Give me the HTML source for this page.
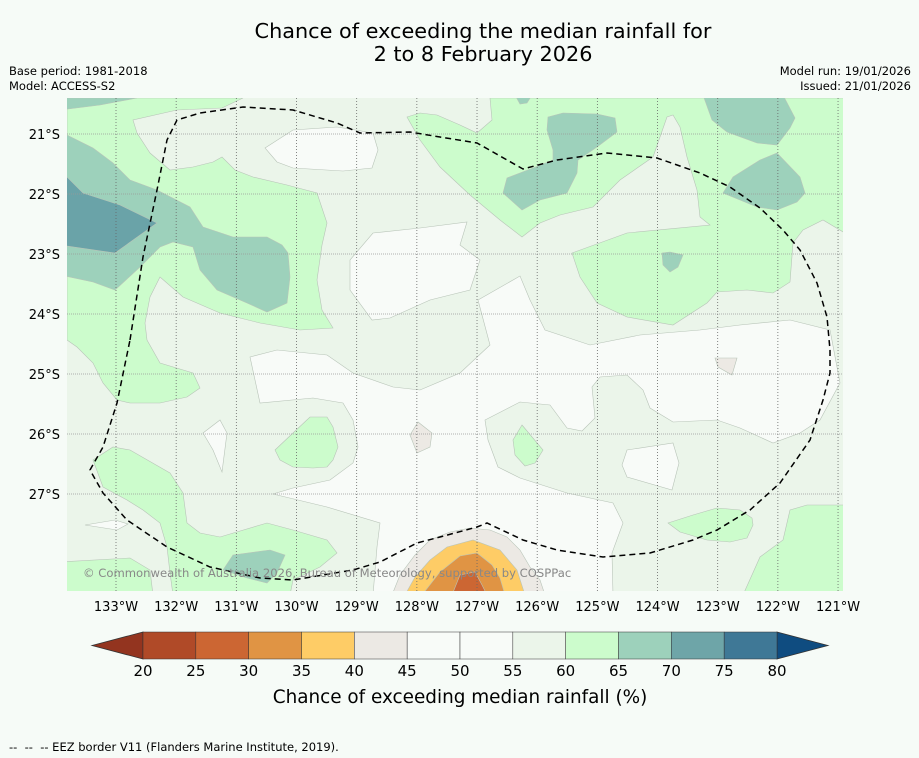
<!DOCTYPE html>
<html><head><meta charset="utf-8"><style>
html,body{margin:0;padding:0;background:#f6fbf7;}
svg{display:block;font-family:"DejaVu Sans","Liberation Sans",sans-serif;}
</style></head><body>
<svg id="fig" width="919" height="758" viewBox="0 0 919 758" xmlns="http://www.w3.org/2000/svg">
<rect x="0" y="0" width="919" height="758" fill="#f6fbf7"/>
<text x="483" y="38" text-anchor="middle" font-size="20.8" fill="#000">Chance of exceeding the median rainfall for</text>
<text x="483" y="61" text-anchor="middle" font-size="20.8" fill="#000">2 to 8 February 2026</text>
<text x="9" y="75" font-size="11.5">Base period: 1981-2018</text>
<text x="9" y="90" font-size="11.5">Model: ACCESS-S2</text>
<text x="911" y="75" font-size="11.5" text-anchor="end">Model run: 19/01/2026</text>
<text x="911" y="90" font-size="11.5" text-anchor="end">Issued: 21/01/2026</text>

<defs><clipPath id="mapclip"><rect x="67" y="98" width="776" height="493"/></clipPath></defs>
<g id="map" clip-path="url(#mapclip)" stroke="#b8c4b8" stroke-width="0.6">
<rect x="67" y="98" width="776" height="493" fill="#ebf5ea" stroke="none"/>
<polygon fill="#f8fbf8" points="250,357 277,350 327,355 353,373 393,387 420,390 460,373 490,345 478,300 520,276 530,300 545,330 590,345 640,335 700,330 740,325 790,320 830,330 840,383 820,420 800,433 773,443 740,428 717,420 673,422 650,408 643,390 627,375 600,377 592,387 595,418 582,431 567,428 550,405 520,402 485,420 488,440 498,467 520,478 567,493 613,503 623,523 612,553 613,595 373,595 377,547 380,523 327,507 273,494 293,488 330,480 353,463 358,447 353,420 343,403 313,398 260,403"/>
<polygon fill="#f8fbf8" points="373,233 420,228 467,222 460,245 480,260 470,290 430,300 390,318 372,320 350,290 350,260"/>
<polygon fill="#f8fbf8" points="265,148 293,130 337,127 373,133 378,150 372,168 343,171 293,168 277,162"/>
<polygon fill="#f8fbf8" points="203,433 220,420 227,433 222,472 213,450"/>
<polygon fill="#f8fbf8" points="85,525 115,520 128,524 117,530"/>
<polygon fill="#f8fbf8" points="622,465 627,450 673,443 679,463 672,490 627,477"/>
<polygon fill="#ece9e4" points="410,435 418,422 432,433 430,447 417,453"/>
<polygon fill="#ece9e4" points="715,358 737,358 732,375 718,367"/>
<polygon fill="#ccfccc" points="67,98 243,98 222,108 177,110 133,120 137,133 150,153 170,170 193,167 213,162 222,157 235,170 253,177 287,185 317,193 327,223 322,245 317,280 322,310 333,328 300,330 260,323 220,313 183,297 160,277 150,297 145,323 147,340 160,363 193,373 200,388 187,397 160,403 130,403 117,400 103,383 93,363 77,347 67,340"/>
<polygon fill="#ccfccc" points="490,98 850,98 850,236 823,220 803,230 793,243 790,282 773,293 747,290 717,292 707,303 673,325 627,317 597,303 580,277 572,253 627,233 710,225 700,217 697,190 687,157 680,127 673,115 667,117 653,157 620,180 593,207 560,215 540,223 522,237 500,220 470,195 440,167 420,140 407,117 420,113 437,115 460,125 477,133 492,120"/>
<polygon fill="#ccfccc" points="93,460 113,447 130,450 170,473 183,493 187,523 200,533 220,537 267,523 293,530 327,540 337,553 320,567 293,580 290,595 173,595 170,573 167,547 160,523 143,510 127,500 103,487"/>
<polygon fill="#ccfccc" points="60,562 130,558 150,570 153,595 60,595"/>
<polygon fill="#ccfccc" points="275,450 293,433 310,417 327,417 333,427 338,447 333,460 327,467 313,468 293,467 280,460"/>
<polygon fill="#ccfccc" points="522,425 543,450 535,463 525,466 515,455 513,440"/>
<polygon fill="#ccfccc" points="743,595 760,557 783,540 790,510 807,505 850,505 850,595"/>
<polygon fill="#ccfccc" points="668,523 693,515 717,508 740,510 752,518 753,525 747,538 730,542 707,540 680,532"/>
<polygon fill="#9dd1bb" points="60,135 67,135 93,148 113,163 130,180 157,190 190,207 203,227 233,237 267,237 282,245 288,253 290,277 287,303 267,312 247,303 217,290 200,270 193,247 173,242 160,247 140,267 115,290 93,282 60,275"/>
<polygon fill="#9dd1bb" points="60,98 137,98 100,105 60,110"/>
<polygon fill="#9dd1bb" points="548,117 563,113 597,114 615,118 617,132 597,147 578,160 577,173 567,193 540,200 522,210 503,193 507,178 533,168 553,160 553,150 547,130"/>
<polygon fill="#9dd1bb" points="703,95 783,95 795,118 790,128 777,145 757,143 727,132 712,120"/>
<polygon fill="#9dd1bb" points="723,193 733,177 760,160 777,153 800,177 805,193 797,202 777,210 757,207 740,200"/>
<polygon fill="#9dd1bb" points="662,253 670,252 683,255 678,267 670,272 663,265"/>
<polygon fill="#9dd1bb" points="515,95 532,95 527,103 520,104"/>
<polygon fill="#9dd1bb" points="223,570 233,555 270,550 285,555 277,573 267,583 247,578"/>
<polygon fill="#6aa3a8" points="60,177 67,177 83,193 120,205 157,223 115,253 60,245"/>
<polygon fill="#ece9e4" points="392,595 400,575 415,555 430,540 450,532 470,528 490,530 507,537 520,550 530,567 540,580 545,595"/>
<polygon fill="#fecc66" points="405,595 415,577 430,560 447,547 473,540 500,550 517,570 525,595"/>
<polygon fill="#e09444" points="422,595 440,572 460,556 477,553 492,565 500,578 505,595"/>
<polygon fill="#cc6633" points="452,595 460,575 475,572 482,585 487,595"/>
<g id="grid" stroke="none"></g>
<polyline fill="none" stroke="#000" stroke-width="1.5" stroke-dasharray="6,4" points="130,340 143,257 157,190 167,140 177,120 200,113 243,107 293,110 337,123 360,133 410,132 440,137 477,143 523,169 557,160 607,153 657,158 700,173 730,187 760,208 783,230 800,250 817,283 827,317 830,350 830,373 823,400 810,440 780,483 750,510 717,530 693,540 650,553 603,557 557,550 523,540 487,523 477,527 440,537 417,543 380,562 353,570 293,580 260,578 210,567 167,547 127,520 103,493 90,470 103,447 117,403 130,340"/>
<text x="83" y="577" font-size="11.6" fill="#888" stroke="none">© Commonwealth of Australia 2026, Bureau of Meteorology, supported by COSPPac</text>
</g>
<g id="axes"></g>
<g id="cbar"></g>
<text x="460" y="703" text-anchor="middle" font-size="18.4">Chance of exceeding median rainfall (%)</text>
<text x="9" y="751" font-size="11.5" xml:space="preserve">--  --  -- EEZ border V11 (Flanders Marine Institute, 2019).</text>
</svg>
<script>
const lonTicks = [133,132,131,130,129,128,127,126,125,124,123,122,121];
const latTicks = [21,22,23,24,25,26,27];
const cbarLevels = [20,25,30,35,40,45,50,55,60,65,70,75,80];
const cbarColors = ["#b04a28","#cc6633","#e09444","#fecc66","#ece9e4","#f8fbf8","#f8fbf8","#ebf5ea","#ccfccc","#9dd1bb","#6ea5a8","#3f7896"];
const underColor = "#93341f";
const overColor = "#0f4c80";

const NS = "http://www.w3.org/2000/svg";
const xLon = lon => 116 + (133 - lon) * 60.17;
const yLat = lat => 134 + (lat - 21) * 60;
function mk(tag, attrs, parent){ const e=document.createElementNS(NS,tag); for(const k in attrs) e.setAttribute(k,attrs[k]); parent.appendChild(e); return e; }
const grid=document.getElementById('grid'), axes=document.getElementById('axes'), cbar=document.getElementById('cbar');
lonTicks.forEach(lon=>{
  const x=xLon(lon);
  const l=mk('line',{x1:x,y1:98,x2:x,y2:591,stroke:'#666','stroke-width':0.8,'stroke-dasharray':'1,2'},grid);
  
  
  const t=mk('text',{x:x,y:611,'text-anchor':'middle','font-size':13},axes);
  
  
  t.textContent=lon+'°W';
});
latTicks.forEach(lat=>{
  const y=yLat(lat);
  const l=mk('line',{x1:67,y1:y,x2:843,y2:y,stroke:'#999','stroke-width':0.8,'stroke-dasharray':'1,1'},grid);
  
  
  const t=mk('text',{x:60,y:y+5,'text-anchor':'end','font-size':13},axes);
  
  
  t.textContent=lat+'°S';
});
const cx0=143, cx1=777, cy0=632, cy1=659;
const step=(cx1-cx0)/(cbarLevels.length-1);
const xC = v => cx0 + (v - cbarLevels[0]) / (cbarLevels[1]-cbarLevels[0]) * step;
const under=mk('polygon',{points:`92,${(cy0+cy1)/2} ${cx0},${cy0} ${cx0},${cy1}`,fill:underColor,stroke:'#333','stroke-width':0.8},cbar);


const over=mk('polygon',{points:`828,${(cy0+cy1)/2} ${cx1},${cy0} ${cx1},${cy1}`,fill:overColor,stroke:'#333','stroke-width':0.8},cbar);


cbarColors.forEach((c,i)=>{
  const x=xC(cbarLevels[i]);
  const r=mk('rect',{x:x,y:cy0,width:xC(cbarLevels[i+1])-x,height:cy1-cy0,fill:c,stroke:'#333','stroke-width':0.5},cbar);
  
  
});
cbarLevels.forEach(v=>{
  const t=mk('text',{x:xC(v),y:676,'text-anchor':'middle','font-size':15},cbar);
  
  
  t.textContent=v;
});
</script>
</body></html>
